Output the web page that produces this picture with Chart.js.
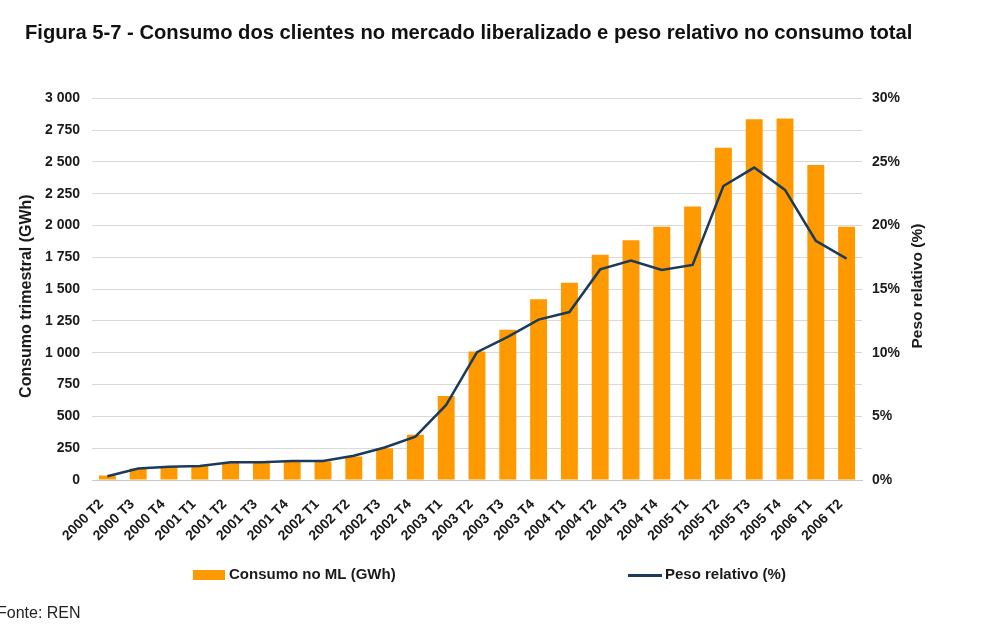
<!DOCTYPE html>
<html>
<head>
<meta charset="utf-8">
<script src="https://cdn.jsdelivr.net/npm/chart.js@4/dist/chart.umd.min.js"></script>
<style>
  html, body { margin: 0; padding: 0; background: #fff; }
  #wrap { width: 989px; height: 636px; position: relative; }
</style>
</head>
<body>
<div id="wrap"><canvas id="myChart"></canvas></div>
<script>
// quarters
const labels = ["2000 T2","2000 T3","2000 T4","2001 T1","2001 T2","2001 T3","2001 T4",
  "2002 T1","2002 T2","2002 T3","2002 T4","2003 T1","2003 T2","2003 T3","2003 T4",
  "2004 T1","2004 T2","2004 T3","2004 T4","2005 T1","2005 T2","2005 T3","2005 T4",
  "2006 T1","2006 T2"]

// Consumo no ML (GWh)
const consumo = [35, 90, 100, 110, 135, 135, 145, 145, 185, 250, 355, 660, 1010,
  1180, 1420, 1550, 1770, 1885, 1990, 2150, 2610, 2835, 2840, 2475, 1990]

// Peso relativo (%)
const peso = [0.3, 0.9, 1.05, 1.1, 1.4, 1.4, 1.5, 1.5, 1.9, 2.55, 3.4, 5.9, 10.05,
  11.25, 12.6, 13.2, 16.55, 17.25, 16.5, 16.9, 23.1, 24.55, 22.8, 18.8, 17.4]

const title = "Figura 5-7 - Consumo dos clientes no mercado liberalizado e peso relativo no consumo total"
const yTitle = "Consumo trimestral (GWh)"
const y1Title = "Peso relativo (%)"
const fonte = "Fonte: REN"

const orange = "#FF9900"
const navy = "#1B3A5C"
const font = "'Liberation Sans', Arial, sans-serif"

function fmt(v){
    return String(v).replace(/\B(?=(\d{3})+(?!\d))/g, " ")
}

// axis titles, legend and source note
const extras = {
    id: "extras",
    afterDraw(chart){
        const ctx = chart.ctx
        const a = chart.chartArea
        const mid = (a.top + a.bottom) / 2
        ctx.save()
        ctx.fillStyle = "#1a1a1a"
        ctx.textAlign = "center"
        ctx.textBaseline = "middle"

        ctx.font = "bold 16px " + font
        ctx.save()
        ctx.translate(27, mid + 7)
        ctx.rotate(-Math.PI/2)
        ctx.fillText(yTitle, 0, 0)
        ctx.restore()

        ctx.font = "bold 15.5px " + font
        ctx.save()
        ctx.translate(918, mid - 3)
        ctx.rotate(-Math.PI/2)
        ctx.fillText(y1Title, 0, 0)
        ctx.restore()

        // legend
        const ly = 575
        ctx.font = "bold 15px " + font
        ctx.textAlign = "left"
        ctx.fillStyle = orange
        ctx.fillRect(193, ly - 5, 32, 10)
        ctx.fillStyle = "#1a1a1a"
        ctx.fillText(chart.data.datasets[1].label, 229, ly)

        ctx.strokeStyle = navy
        ctx.lineWidth = 3
        ctx.beginPath()
        ctx.moveTo(628, ly + 0.5)
        ctx.lineTo(662, ly + 0.5)
        ctx.stroke()
        ctx.fillText(chart.data.datasets[0].label, 665, ly)

        ctx.font = "16px " + font
        ctx.fillStyle = "#222"
        ctx.fillText(fonte, -3, 614)
        ctx.restore()
    }
}

const ctx = document.getElementById('myChart').getContext('2d')

new Chart(ctx, {
    type: 'bar',
    data: {
        labels: labels,
        datasets: [
            {
                type: 'line',
                label: "Peso relativo (%)",
                data: peso,
                yAxisID: 'y1',
                borderColor: navy,
                backgroundColor: navy,
                borderWidth: 2.5,
                pointRadius: 0,
                tension: 0,
                order: 0
            },
            {
                label: "Consumo no ML (GWh)",
                data: consumo,
                yAxisID: 'y',
                backgroundColor: orange,
                barPercentage: 0.55,
                categoryPercentage: 1,
                order: 1
            }
        ]
    },
    options: {
        responsive: true,
        maintainAspectRatio: false,
        animation: false,
        layout: {
            padding: { left: 25, right: 0, top: 0, bottom: 88 }
        },
        plugins: {
            legend: { display: false },
            tooltip: { enabled: false },
            title: {
                display: true,
                text: title,
                align: 'start',
                color: "#111",
                font: { family: font, size: 20.2, weight: 'bold' },
                padding: { top: 21, bottom: 53 }
            }
        },
        scales: {
            x: {
                afterFit: s => { s.height = 68 },
                grid: { display: false },
                border: { display: true, color: "#c8c8c8" },
                ticks: {
                    autoSkip: false,
                    minRotation: 45,
                    maxRotation: 45,
                    padding: 8,
                    labelOffset: -6,
                    color: "#1a1a1a",
                    font: { family: font, size: 14, weight: 'bold' }
                }
            },
            y: {
                position: 'left',
                min: 0,
                max: 3000,
                afterFit: s => { s.width = 67 },
                grid: { color: "#d9d9d9", lineWidth: 1, drawTicks: false },
                border: { display: false },
                ticks: {
                    stepSize: 250,
                    padding: 12,
                    color: "#1a1a1a",
                    font: { family: font, size: 14, weight: 'bold' },
                    callback: v => fmt(v)
                }
            },
            y1: {
                position: 'right',
                min: 0,
                max: 30,
                afterFit: s => { s.width = 127 },
                grid: { display: false, drawTicks: false },
                border: { display: false },
                ticks: {
                    stepSize: 5,
                    padding: 10,
                    color: "#1a1a1a",
                    font: { family: font, size: 14, weight: 'bold' },
                    callback: v => v + "%"
                }
            }
        }
    },
    plugins: [extras]
})
</script>
</body>
</html>
